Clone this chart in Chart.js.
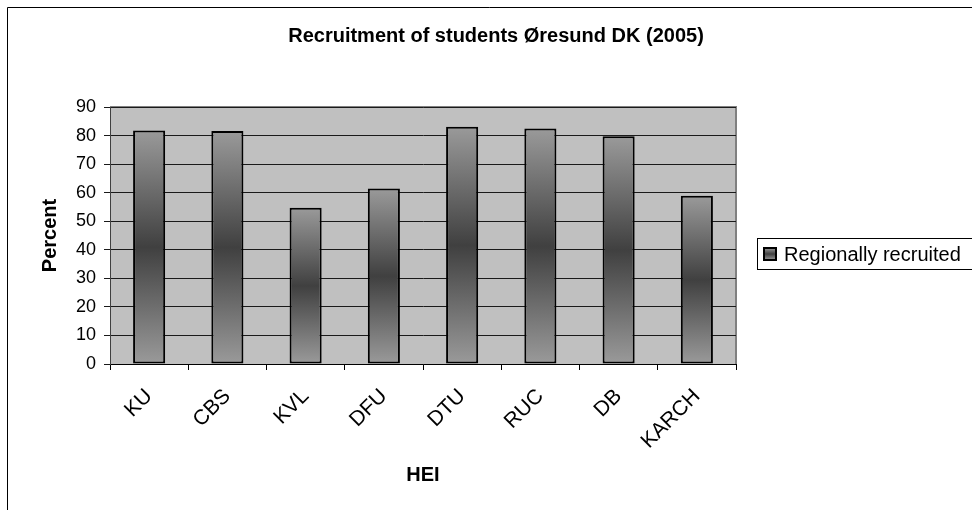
<!DOCTYPE html>
<html>
<head>
<meta charset="utf-8">
<script src="https://cdn.jsdelivr.net/npm/chart.js@4.4.0/dist/chart.umd.min.js"></script>
<style>
  html, body { margin: 0; padding: 0; background: #fff; }
  #wrap { width: 972px; height: 510px; }
</style>
</head>
<body>
<div id="wrap"><canvas id="recruit_chart"></canvas></div>
<script>
// data
const categories = ['KU', 'CBS', 'KVL', 'DFU', 'DTU', 'RUC', 'DB', 'KARCH'];
const regionallyRecruited = [81.8, 81.6, 54.7, 61.5, 83.1, 82.5, 79.8, 58.9];
const seriesLabel = 'Regionally recruited';
const yMin = 0;
const yMax = 90;
const yStep = 10;

const FONT = "'Liberation Sans', Arial, sans-serif";

// vertical grey gradient per bar, light at both ends, dark in the middle
function barFill(ctx) {
  const chart = ctx.chart;
  const y = chart.scales.y;
  if (ctx.type !== 'data' || !y) return '#707070';
  const top = y.getPixelForValue(regionallyRecruited[ctx.dataIndex]);
  const base = y.getPixelForValue(0);
  if (!isFinite(top) || !isFinite(base) || top === base) return '#707070';
  const g = chart.ctx.createLinearGradient(0, top, 0, base);
  g.addColorStop(0, '#9a9a9a');
  g.addColorStop(0.5, '#404040');
  g.addColorStop(1, '#9a9a9a');
  return g;
}

// grey plot background + outer frame lines
const plotBackground = {
  id: 'plotBackground',
  beforeDraw(chart) {
    const {ctx, chartArea: a} = chart;
    ctx.save();
    ctx.fillStyle = '#c0c0c0';
    ctx.fillRect(a.left, a.top, a.right - a.left, a.bottom - a.top);
    ctx.strokeStyle = '#808080';
    ctx.lineWidth = 2;
    ctx.beginPath();
    ctx.moveTo(a.left, a.top);
    ctx.lineTo(a.right, a.top);
    ctx.lineTo(a.right, a.bottom);
    ctx.stroke();
    // chart frame (right and bottom edges fall outside the picture)
    ctx.strokeStyle = '#000';
    ctx.lineWidth = 1;
    ctx.beginPath();
    ctx.moveTo(7.5, 510);
    ctx.lineTo(7.5, 7.5);
    ctx.lineTo(972, 7.5);
    ctx.stroke();
    ctx.restore();
  }
};

// Excel style boxed legend on the right
const boxLegend = {
  id: 'boxLegend',
  afterDraw(chart) {
    const ctx = chart.ctx;
    const label = chart.data.datasets[0].label;
    ctx.save();
    ctx.strokeStyle = '#000';
    ctx.lineWidth = 1;
    ctx.strokeRect(757.5, 238.5, 230, 31);
    const g = ctx.createLinearGradient(0, 248, 0, 260);
    g.addColorStop(0, '#9a9a9a');
    g.addColorStop(0.5, '#404040');
    g.addColorStop(1, '#9a9a9a');
    ctx.fillStyle = g;
    ctx.fillRect(764, 248, 12, 12);
    ctx.lineWidth = 2;
    ctx.strokeRect(764, 248, 12, 12);
    ctx.fillStyle = '#000';
    ctx.font = '20px ' + FONT;
    ctx.textBaseline = 'middle';
    ctx.fillText(label, 784, 255);
    ctx.restore();
  }
};

new Chart(document.getElementById('recruit_chart'), {
  type: 'bar',
  data: {
    labels: categories,
    datasets: [{
      label: seriesLabel,
      data: regionallyRecruited,
      backgroundColor: barFill,
      borderColor: '#000',
      borderWidth: 2,
      borderSkipped: false,
      categoryPercentage: 1.0,
      barPercentage: 0.41
    }]
  },
  options: {
    responsive: true,
    maintainAspectRatio: false,
    animation: false,
    layout: { padding: { left: 20, right: 0, top: 0, bottom: 0 } },
    plugins: {
      legend: { display: false },
      tooltip: { enabled: false },
      title: {
        display: true,
        text: 'Recruitment of students Øresund DK (2005)',
        color: '#000',
        font: { family: FONT, size: 20, weight: 'bold' },
        padding: { top: 24, bottom: 59 }
      }
    },
    scales: {
      x: {
        grid: {
          offset: true,
          drawOnChartArea: false,
          drawTicks: true,
          tickLength: 6,
          color: '#000'
        },
        border: { color: '#000', width: 1 },
        ticks: {
          color: '#000',
          font: { family: FONT, size: 21 },
          maxRotation: 45,
          minRotation: 45,
          autoSkip: false,
          padding: 14
        },
        title: {
          display: true,
          text: 'HEI',
          color: '#000',
          font: { family: FONT, size: 20, weight: 'bold' },
          padding: { top: 0, bottom: 23 }
        },
        afterFit(s) { s.height = 146; }
      },
      y: {
        min: yMin,
        max: yMax,
        grid: {
          color: '#1a1a1a',
          lineWidth: 1,
          drawTicks: true,
          tickLength: 6
        },
        border: { color: '#404040', width: 1 },
        ticks: {
          stepSize: yStep,
          color: '#000',
          font: { family: FONT, size: 18 },
          padding: 8
        },
        title: {
          display: true,
          text: 'Percent',
          color: '#000',
          font: { family: FONT, size: 20, weight: 'bold' },
          padding: { top: 18, bottom: 0 }
        },
        afterFit(s) { s.width = 90; }
      },
      legendSpace: {
        type: 'linear',
        position: 'right',
        display: true,
        grid: { display: false },
        border: { display: false },
        ticks: { display: false },
        afterFit(s) { s.width = 236; }
      }
    }
  },
  plugins: [plotBackground, boxLegend]
});
</script>
</body>
</html>
